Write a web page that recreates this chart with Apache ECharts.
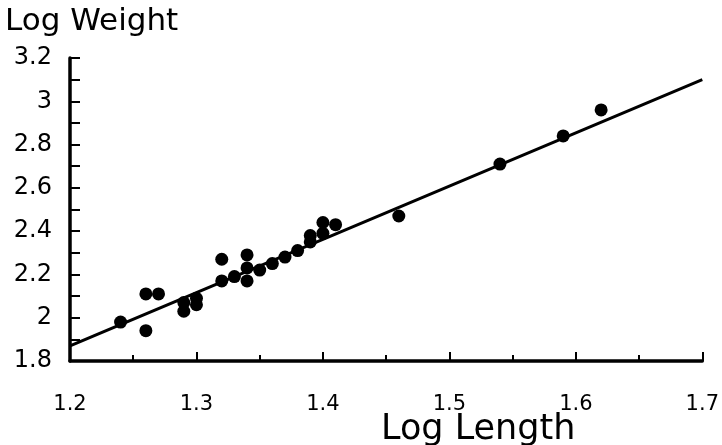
<!DOCTYPE html>
<html>
<head>
<meta charset="utf-8">
<script src="https://cdn.jsdelivr.net/npm/echarts@6/dist/echarts.min.js"></script>
<style>
html,body{margin:0;padding:0;background:#fff;}
#chart{width:722px;height:445px;}
</style>
</head>
<body>
<div id="chart"></div>
<script>
// Log Length (x) and Log Weight (y) of observed points
var logLength = [1.24, 1.26, 1.27, 1.26, 1.29, 1.29, 1.30, 1.30, 1.32, 1.32, 1.33, 1.34, 1.34, 1.34, 1.35, 1.36, 1.37, 1.38, 1.39, 1.39, 1.40, 1.40, 1.41, 1.46, 1.54, 1.59, 1.62];
var logWeight = [1.98, 2.11, 2.11, 1.94, 2.07, 2.03, 2.09, 2.06, 2.27, 2.17, 2.19, 2.29, 2.23, 2.17, 2.22, 2.25, 2.28, 2.31, 2.38, 2.35, 2.44, 2.39, 2.43, 2.47, 2.71, 2.84, 2.96];
// fitted regression line end points
var fitX = [1.2, 1.7];
var fitY = [1.87, 3.10];
// axis ranges / ticks
var xMin = 1.2, xMax = 1.7, xStep = 0.1;
var yMin = 1.8, yMax = 3.2, yStep = 0.2;
var xTitle = 'Log Length';
var yTitle = 'Log Weight';

var pts = logLength.map(function (x, i) { return [x, logWeight[i]]; });
var fit = fitX.map(function (x, i) { return [x, fitY[i]]; });
var fmt = function (v) { return String(+(+v).toFixed(1)); };

var chart = echarts.init(document.getElementById('chart'), null, {renderer: 'canvas'});
chart.setOption({
  animation: false,
  backgroundColor: '#ffffff',
  title: [
    {text: yTitle, left: 0, top: 1, textStyle: {fontFamily: 'DejaVu Sans', fontSize: 31, fontWeight: 'normal', color: '#000'}},
    {text: xTitle, left: 376, top: 407, textStyle: {fontFamily: 'DejaVu Sans', fontSize: 35, fontWeight: 'normal', color: '#000'}}
  ],
  grid: {left: 70, right: 15, top: 58, bottom: 84, containLabel: false},
  xAxis: {
    type: 'value', min: xMin, max: xMax, interval: xStep,
    axisLine: {show: true, lineStyle: {color: '#000', width: 3.5}},
    axisTick: {show: true, inside: true, length: 9, lineStyle: {color: '#000', width: 2}},
    minorTick: {show: true, splitNumber: 2, length: 6, lineStyle: {color: '#000', width: 2}},
    splitLine: {show: false},
    axisLabel: {show: true, margin: 33, fontFamily: 'DejaVu Sans', fontSize: 21, color: '#000', formatter: fmt, showMinLabel: true, showMaxLabel: true}
  },
  yAxis: {
    type: 'value', min: yMin, max: yMax, interval: yStep,
    axisLine: {show: true, lineStyle: {color: '#000', width: 3.5}},
    axisTick: {show: true, inside: true, length: 10, lineStyle: {color: '#000', width: 2}},
    minorTick: {show: true, splitNumber: 2, length: 10, lineStyle: {color: '#000', width: 2}},
    splitLine: {show: false},
    axisLabel: {show: true, margin: 18, fontFamily: 'DejaVu Sans', fontSize: 24, color: '#000', formatter: fmt, showMinLabel: true, showMaxLabel: true}
  },
  series: [
    {type: 'line', data: fit, symbol: 'none', silent: true, z: 2,
     lineStyle: {color: '#000', width: 3}},
    {type: 'scatter', data: pts, symbol: 'circle', symbolSize: 13, z: 3,
     itemStyle: {color: '#000', opacity: 1}}
  ]
});
</script>
</body>
</html>
